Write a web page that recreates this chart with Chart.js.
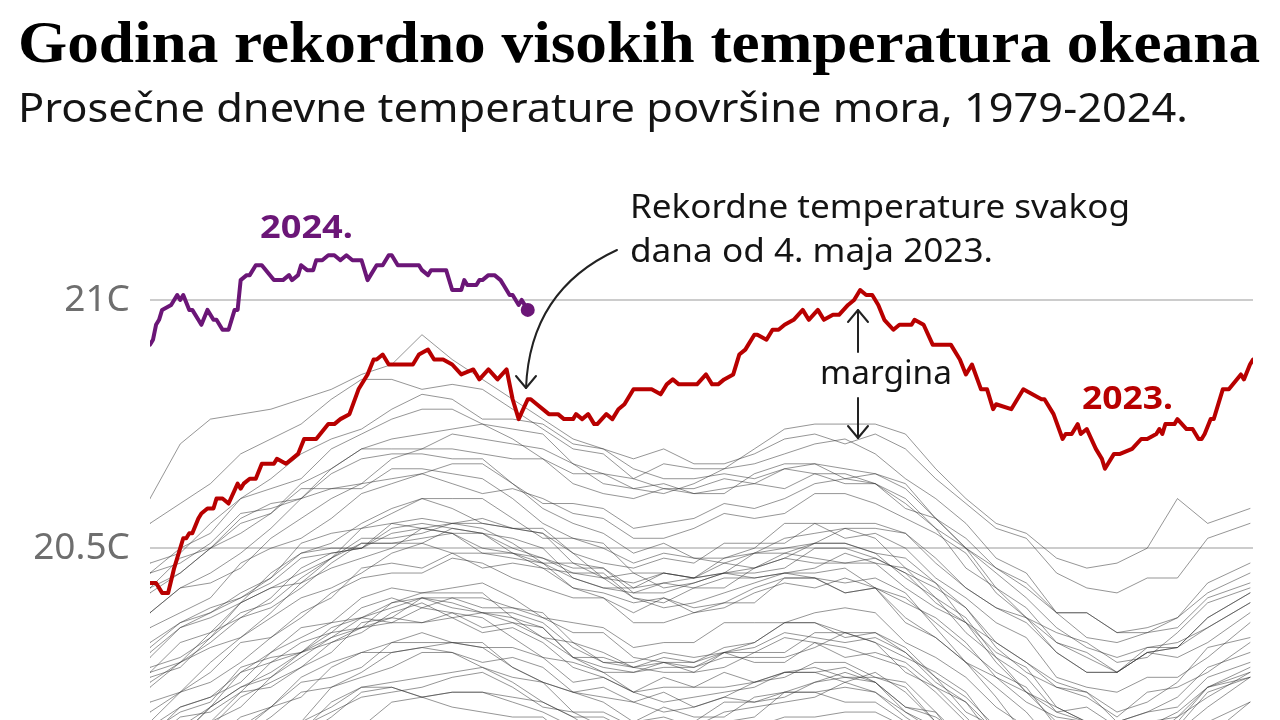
<!DOCTYPE html>
<html>
<head>
<meta charset="utf-8">
<script src="https://cdn.jsdelivr.net/npm/chart.js@4"></script>
<style>
  html, body { margin: 0; padding: 0; background: #fff; overflow: hidden; }
  #wrap { position: absolute; left: 0; top: 0; width: 1280px; height: 729px; }
</style>
</head>
<body>
<div id="wrap"><canvas id="sstChart" width="1280" height="729"></canvas></div>
<script>
// Day of year sampled for the older years (1979-2022)
const grayDays = [0, 10, 20, 30, 40, 50, 60, 70, 80, 90, 100, 110, 120, 130, 140, 150, 160, 170, 180,
    190, 200, 210, 220, 230, 240, 250, 260, 270, 280, 290, 300, 310, 320, 330, 340, 350, 364];
const grayYears = [1979, 1980, 1981, 1982, 1983, 1984, 1985, 1986, 1987, 1988, 1989, 1990, 1991, 1992, 1993,
    1994, 1995, 1996, 1997, 1998, 1999, 2000, 2001, 2002, 2003, 2004, 2005, 2006, 2007, 2008, 2009, 2010,
    2011, 2012, 2013, 2014, 2015, 2016, 2017, 2018, 2019, 2020, 2021, 2022];
const grayTemps = [
    [19.95,20.02,20.04,20.06,20.09,20.15,20.18,20.22,20.22,20.20,20.21,20.21,20.20,20.19,20.16,20.12,20.10,20.12,20.09,20.10,20.14,20.16,20.16,20.17,20.17,20.14,20.07,20.00,19.95,19.92,19.87,19.83,19.83,19.85,19.85,19.92,19.98],
    [19.99,20.03,20.08,20.14,20.18,20.23,20.24,20.26,20.31,20.31,20.31,20.30,20.26,20.23,20.21,20.22,20.19,20.17,20.18,20.20,20.19,20.21,20.23,20.25,20.23,20.17,20.13,20.08,20.01,19.95,19.93,19.91,19.87,19.89,19.90,19.97,19.99],
    [19.98,20.03,20.06,20.11,20.12,20.15,20.22,20.24,20.26,20.29,20.29,20.26,20.24,20.23,20.17,20.14,20.15,20.16,20.14,20.15,20.16,20.21,20.21,20.19,20.19,20.15,20.09,20.02,19.99,19.96,19.90,19.87,19.83,19.88,19.88,19.91,19.96],
    [19.95,20.00,20.01,20.04,20.11,20.14,20.17,20.20,20.21,20.22,20.24,20.25,20.22,20.18,20.17,20.17,20.14,20.15,20.15,20.19,20.19,20.20,20.23,20.24,20.23,20.18,20.16,20.12,20.06,20.02,19.97,19.97,19.93,19.95,19.98,20.05,20.09],
    [20.10,20.12,20.18,20.22,20.25,20.29,20.31,20.33,20.37,20.39,20.36,20.33,20.34,20.31,20.26,20.24,20.21,20.24,20.22,20.22,20.23,20.25,20.25,20.23,20.25,20.21,20.15,20.09,20.03,20.01,19.94,19.90,19.87,19.91,19.92,19.98,20.00],
    [19.97,20.00,20.03,20.08,20.10,20.12,20.16,20.21,20.22,20.20,20.21,20.21,20.19,20.17,20.14,20.14,20.09,20.08,20.08,20.12,20.13,20.12,20.15,20.15,20.13,20.09,20.04,20.01,19.94,19.89,19.85,19.83,19.78,19.83,19.83,19.87,19.92],
    [19.91,19.96,19.99,20.01,20.05,20.11,20.13,20.14,20.19,20.20,20.18,20.17,20.16,20.16,20.11,20.09,20.08,20.09,20.07,20.06,20.09,20.12,20.13,20.13,20.13,20.11,20.04,19.98,19.94,19.91,19.85,19.85,19.81,19.81,19.84,19.90,19.95],
    [19.95,19.98,20.03,20.09,20.10,20.13,20.19,20.22,20.23,20.24,20.25,20.26,20.23,20.19,20.16,20.16,20.13,20.12,20.14,20.17,20.18,20.19,20.20,20.23,20.21,20.16,20.12,20.09,20.03,20.01,19.94,19.89,19.88,19.91,19.94,20.01,20.05],
    [20.07,20.13,20.15,20.18,20.24,20.29,20.32,20.34,20.36,20.40,20.39,20.37,20.37,20.35,20.30,20.27,20.27,20.29,20.28,20.29,20.30,20.33,20.32,20.31,20.32,20.29,20.23,20.19,20.11,20.04,20.00,19.98,19.96,19.98,19.98,20.02,20.07],
    [20.10,20.12,20.18,20.22,20.24,20.28,20.32,20.36,20.35,20.35,20.37,20.36,20.32,20.28,20.27,20.25,20.21,20.22,20.22,20.25,20.23,20.24,20.27,20.27,20.24,20.23,20.17,20.09,20.04,19.99,19.93,19.92,19.89,19.89,19.91,19.99,20.02],
    [19.99,20.04,20.07,20.12,20.16,20.21,20.22,20.25,20.29,20.30,20.29,20.27,20.28,20.26,20.21,20.20,20.19,20.21,20.18,20.20,20.23,20.25,20.25,20.26,20.23,20.18,20.17,20.11,20.05,20.02,19.97,19.93,19.91,19.96,19.97,20.00,20.06],
    [20.10,20.14,20.18,20.25,20.27,20.29,20.33,20.38,20.40,20.38,20.40,20.40,20.38,20.36,20.33,20.33,20.28,20.27,20.27,20.30,20.31,20.35,20.35,20.32,20.33,20.29,20.24,20.20,20.14,20.07,20.02,20.02,19.98,19.99,20.03,20.08,20.11],
    [20.11,20.16,20.17,20.21,20.27,20.31,20.33,20.34,20.39,20.40,20.38,20.37,20.36,20.34,20.28,20.26,20.25,20.27,20.26,20.29,20.27,20.27,20.31,20.30,20.28,20.26,20.21,20.15,20.11,20.07,19.99,19.95,19.95,19.97,19.97,20.03,20.08],
    [20.05,20.07,20.11,20.16,20.18,20.20,20.26,20.29,20.29,20.30,20.31,20.31,20.26,20.23,20.21,20.19,20.15,20.18,20.16,20.16,20.20,20.21,20.21,20.22,20.21,20.17,20.14,20.10,20.01,19.95,19.92,19.91,19.88,19.90,19.91,19.99,20.03],
    [20.03,20.08,20.11,20.13,20.18,20.24,20.27,20.29,20.31,20.33,20.31,20.30,20.30,20.28,20.23,20.24,20.21,20.19,20.20,20.21,20.22,20.25,20.26,20.24,20.24,20.22,20.15,20.09,20.06,20.02,19.95,19.93,19.91,19.96,19.96,20.00,20.05],
    [20.06,20.08,20.14,20.20,20.23,20.26,20.29,20.35,20.36,20.35,20.36,20.37,20.35,20.34,20.28,20.25,20.25,20.26,20.26,20.28,20.28,20.28,20.30,20.33,20.31,20.25,20.22,20.19,20.13,20.08,20.02,20.03,19.99,20.00,20.02,20.09,20.13],
    [20.14,20.18,20.20,20.25,20.29,20.34,20.35,20.36,20.39,20.41,20.41,20.41,20.36,20.32,20.31,20.29,20.26,20.27,20.25,20.26,20.29,20.32,20.31,20.28,20.29,20.27,20.22,20.16,20.10,20.07,19.99,19.96,19.95,19.98,19.98,20.01,20.07],
    [20.07,20.11,20.15,20.21,20.22,20.26,20.31,20.34,20.35,20.38,20.37,20.34,20.35,20.32,20.28,20.28,20.26,20.25,20.25,20.29,20.29,20.29,20.33,20.33,20.31,20.28,20.25,20.21,20.13,20.08,20.05,20.03,19.99,20.00,20.05,20.11,20.14],
    [20.15,20.21,20.23,20.27,20.32,20.37,20.40,20.46,20.47,20.46,20.49,20.49,20.48,20.47,20.44,20.42,20.42,20.45,20.44,20.45,20.49,20.52,20.53,20.54,20.54,20.53,20.47,20.42,20.38,20.35,20.29,20.25,20.25,20.29,20.30,20.36,20.41],
    [20.41,20.45,20.50,20.55,20.57,20.62,20.62,20.62,20.66,20.66,20.65,20.64,20.60,20.55,20.52,20.51,20.45,20.42,20.43,20.45,20.44,20.45,20.45,20.46,20.42,20.36,20.32,20.27,20.20,20.12,20.08,20.06,20.02,20.04,20.05,20.12,20.14],
    [20.13,20.17,20.19,20.26,20.28,20.29,20.34,20.36,20.38,20.40,20.40,20.38,20.38,20.37,20.31,20.27,20.26,20.28,20.27,20.29,20.31,20.35,20.35,20.33,20.33,20.30,20.24,20.17,20.14,20.11,20.05,20.02,19.99,20.03,20.02,20.07,20.13],
    [20.12,20.18,20.20,20.23,20.29,20.32,20.35,20.40,20.42,20.41,20.42,20.43,20.40,20.36,20.35,20.34,20.30,20.31,20.31,20.35,20.35,20.35,20.37,20.38,20.37,20.31,20.28,20.24,20.18,20.14,20.09,20.08,20.03,20.05,20.08,20.15,20.19],
    [20.19,20.21,20.27,20.32,20.36,20.40,20.42,20.45,20.49,20.51,20.49,20.46,20.47,20.46,20.42,20.40,20.37,20.40,20.38,20.39,20.42,20.44,20.44,20.41,20.42,20.40,20.35,20.30,20.25,20.22,20.14,20.11,20.10,20.14,20.15,20.22,20.24],
    [20.23,20.27,20.31,20.36,20.38,20.42,20.47,20.51,20.51,20.51,20.54,20.53,20.50,20.48,20.46,20.46,20.41,20.41,20.43,20.45,20.45,20.46,20.50,20.50,20.48,20.45,20.42,20.38,20.30,20.25,20.22,20.20,20.16,20.21,20.22,20.25,20.31],
    [20.30,20.35,20.38,20.40,20.44,20.49,20.50,20.50,20.54,20.55,20.54,20.53,20.52,20.50,20.44,20.42,20.41,20.43,20.42,20.42,20.46,20.48,20.47,20.47,20.47,20.46,20.40,20.33,20.28,20.24,20.17,20.18,20.14,20.14,20.17,20.22,20.26],
    [20.26,20.28,20.32,20.39,20.42,20.43,20.48,20.51,20.51,20.52,20.53,20.53,20.49,20.46,20.45,20.44,20.40,20.39,20.42,20.44,20.44,20.45,20.46,20.49,20.47,20.42,20.38,20.35,20.29,20.26,20.18,20.15,20.15,20.17,20.18,20.24,20.27],
    [20.28,20.34,20.36,20.39,20.45,20.49,20.51,20.55,20.58,20.60,20.58,20.55,20.54,20.53,20.49,20.44,20.43,20.45,20.44,20.45,20.46,20.49,20.48,20.47,20.48,20.45,20.39,20.35,20.27,20.21,20.18,20.15,20.11,20.15,20.16,20.20,20.25],
    [20.24,20.26,20.32,20.37,20.39,20.44,20.48,20.52,20.52,20.53,20.55,20.54,20.51,20.47,20.47,20.46,20.42,20.43,20.44,20.47,20.46,20.48,20.51,20.51,20.49,20.48,20.43,20.35,20.31,20.27,20.23,20.21,20.17,20.19,20.23,20.30,20.32],
    [20.31,20.35,20.37,20.40,20.43,20.48,20.49,20.50,20.53,20.54,20.53,20.49,20.49,20.47,20.42,20.41,20.39,20.40,20.37,20.38,20.41,20.43,20.42,20.44,20.42,20.35,20.32,20.27,20.22,20.17,20.10,20.07,20.06,20.09,20.08,20.12,20.19],
    [20.17,20.21,20.25,20.31,20.32,20.36,20.41,20.44,20.45,20.45,20.48,20.47,20.44,20.42,20.40,20.40,20.35,20.35,20.37,20.39,20.39,20.44,20.44,20.41,20.42,20.39,20.36,20.31,20.24,20.19,20.16,20.15,20.10,20.11,20.16,20.22,20.25],
    [20.25,20.31,20.33,20.36,20.40,20.46,20.49,20.50,20.55,20.56,20.55,20.55,20.54,20.54,20.49,20.47,20.46,20.48,20.47,20.51,20.51,20.51,20.55,20.55,20.55,20.53,20.48,20.42,20.38,20.36,20.29,20.25,20.25,20.29,20.30,20.36,20.41],
    [20.42,20.45,20.50,20.56,20.59,20.60,20.65,20.68,20.69,20.69,20.68,20.68,20.63,20.58,20.55,20.53,20.49,20.51,20.48,20.47,20.49,20.50,20.51,20.51,20.49,20.44,20.40,20.36,20.28,20.21,20.17,20.15,20.11,20.13,20.14,20.21,20.24],
    [20.22,20.27,20.30,20.32,20.37,20.43,20.46,20.48,20.50,20.54,20.53,20.50,20.49,20.48,20.45,20.45,20.40,20.38,20.39,20.41,20.43,20.45,20.44,20.43,20.44,20.41,20.34,20.27,20.24,20.21,20.15,20.12,20.08,20.13,20.13,20.18,20.24],
    [20.25,20.27,20.33,20.39,20.42,20.45,20.48,20.54,20.55,20.54,20.55,20.56,20.54,20.53,20.47,20.44,20.45,20.45,20.44,20.48,20.49,20.49,20.51,20.54,20.52,20.46,20.43,20.38,20.31,20.27,20.22,20.21,20.15,20.17,20.20,20.26,20.29],
    [20.29,20.34,20.37,20.41,20.44,20.51,20.53,20.54,20.57,20.60,20.60,20.60,20.56,20.52,20.52,20.50,20.47,20.49,20.48,20.48,20.50,20.55,20.55,20.52,20.53,20.50,20.44,20.40,20.35,20.32,20.24,20.22,20.21,20.24,20.24,20.28,20.35],
    [20.34,20.37,20.40,20.47,20.50,20.52,20.56,20.61,20.63,20.65,20.63,20.61,20.62,20.60,20.57,20.56,20.52,20.52,20.54,20.57,20.56,20.57,20.61,20.61,20.59,20.56,20.53,20.49,20.41,20.36,20.33,20.31,20.27,20.28,20.33,20.39,20.42],
    [20.42,20.48,20.50,20.53,20.57,20.63,20.66,20.70,20.70,20.70,20.73,20.72,20.71,20.70,20.67,20.65,20.64,20.67,20.66,20.66,20.70,20.74,20.75,20.75,20.75,20.73,20.66,20.60,20.55,20.53,20.48,20.46,20.47,20.50,20.60,20.55,20.58],
    [20.60,20.71,20.76,20.77,20.78,20.80,20.82,20.85,20.87,20.93,20.88,20.84,20.80,20.76,20.72,20.70,20.66,20.64,20.64,20.65,20.64,20.66,20.67,20.64,20.65,20.62,20.56,20.50,20.45,20.40,20.34,20.30,20.28,20.30,20.31,20.34,20.39],
    [20.45,20.50,20.53,20.60,20.62,20.64,20.70,20.73,20.76,20.78,20.78,20.75,20.74,20.73,20.67,20.63,20.62,20.63,20.61,20.62,20.63,20.66,20.65,20.63,20.63,20.60,20.54,20.46,20.42,20.38,20.31,20.28,20.25,20.30,20.30,20.34,20.39],
    [20.37,20.42,20.43,20.46,20.52,20.56,20.60,20.63,20.64,20.65,20.67,20.67,20.63,20.59,20.59,20.58,20.54,20.55,20.56,20.59,20.58,20.60,20.63,20.64,20.63,20.58,20.56,20.52,20.46,20.42,20.37,20.37,20.33,20.34,20.36,20.43,20.47],
    [20.47,20.49,20.55,20.60,20.64,20.69,20.72,20.74,20.78,20.81,20.80,20.76,20.76,20.75,20.71,20.70,20.68,20.70,20.67,20.67,20.69,20.72,20.73,20.71,20.73,20.70,20.64,20.59,20.54,20.52,20.45,20.42,20.41,20.44,20.44,20.52,20.55],
    [20.55,20.59,20.63,20.69,20.72,20.75,20.80,20.84,20.84,20.82,20.83,20.82,20.78,20.74,20.70,20.69,20.64,20.62,20.62,20.64,20.63,20.62,20.65,20.65,20.63,20.59,20.54,20.50,20.42,20.36,20.31,20.29,20.25,20.29,20.28,20.31,20.37],
    [20.37,20.42,20.45,20.49,20.54,20.60,20.62,20.63,20.68,20.70,20.70,20.69,20.68,20.68,20.63,20.61,20.60,20.62,20.61,20.61,20.65,20.67,20.67,20.66,20.65,20.63,20.56,20.50,20.46,20.43,20.37,20.37,20.33,20.33,20.36,20.41,20.45],
    [20.45,20.47,20.51,20.57,20.58,20.60,20.66,20.70,20.72,20.73,20.74,20.75,20.72,20.68,20.65,20.65,20.62,20.61,20.63,20.66,20.67,20.69,20.71,20.72,20.69,20.64,20.60,20.55,20.48,20.45,20.37,20.32,20.31,20.33,20.34,20.40,20.43]
];

const days2023 = [
    0, 2, 4, 6, 8, 11, 12, 13, 14, 16,
    17, 19, 21, 22, 24, 26, 29, 30, 31, 33,
    35, 37, 41, 42, 45, 47, 49, 51, 54, 55,
    59, 61, 63, 66, 69, 72, 74, 75, 77, 79,
    87, 89, 92, 94, 97, 100, 103, 107, 109, 112,
    115, 118, 120, 122, 125, 126, 128, 132, 135, 137,
    140, 141, 143, 145, 147, 148, 151, 153, 155, 157,
    158, 160, 162, 165, 166, 169, 171, 173, 175, 181,
    184, 186, 188, 190, 193, 195, 197, 198, 200, 201,
    204, 206, 208, 210, 213, 216, 218, 221, 223, 226,
    228, 231, 233, 235, 237, 239, 241, 243, 246, 248,
    252, 253, 256, 259, 265, 268, 270, 272, 275, 277,
    279, 280, 285, 289, 292, 295, 296, 299, 302, 303,
    305, 307, 308, 310, 313, 315, 316, 319, 321, 325,
    328, 330, 333, 334, 335, 336, 339, 340, 343, 345,
    347, 348, 349, 351, 352, 355, 357, 361, 362, 364,
    365
];
const temps2023 = [
    20.43, 20.43, 20.41, 20.41, 20.46, 20.52, 20.52, 20.53, 20.53, 20.56,
    20.57, 20.58, 20.58, 20.60, 20.60, 20.59, 20.63, 20.62, 20.63, 20.64,
    20.64, 20.67, 20.67, 20.68, 20.67, 20.68, 20.69, 20.72, 20.72, 20.72,
    20.75, 20.75, 20.76, 20.77, 20.82, 20.85, 20.88, 20.88, 20.89, 20.87,
    20.87, 20.89, 20.90, 20.88, 20.88, 20.87, 20.85, 20.86, 20.84, 20.86,
    20.84, 20.86, 20.80, 20.76, 20.80, 20.80, 20.79, 20.77, 20.77, 20.76,
    20.76, 20.77, 20.76, 20.77, 20.75, 20.75, 20.77, 20.76, 20.78, 20.79,
    20.80, 20.82, 20.82, 20.82, 20.82, 20.81, 20.83, 20.84, 20.83, 20.83,
    20.85, 20.83, 20.83, 20.84, 20.85, 20.89, 20.90, 20.91, 20.93, 20.93,
    20.92, 20.94, 20.94, 20.95, 20.96, 20.98, 20.96, 20.98, 20.96, 20.97,
    20.97, 20.99, 21.00, 21.02, 21.01, 21.01, 20.99, 20.96, 20.94, 20.95,
    20.95, 20.96, 20.95, 20.91, 20.91, 20.88, 20.85, 20.87, 20.82, 20.82,
    20.78, 20.79, 20.78, 20.82, 20.81, 20.80, 20.80, 20.77, 20.72, 20.73,
    20.73, 20.75, 20.73, 20.74, 20.70, 20.68, 20.66, 20.69, 20.69, 20.70,
    20.72, 20.72, 20.73, 20.74, 20.73, 20.75, 20.75, 20.76, 20.74, 20.74,
    20.72, 20.72, 20.73, 20.76, 20.76, 20.82, 20.82, 20.85, 20.84, 20.87,
    20.88
];

const days2024 = [
    0, 1, 2, 3, 4, 7, 9, 10, 11, 13,
    14, 16, 17, 19, 21, 22, 24, 26, 28, 29,
    30, 32, 33, 35, 37, 41, 44, 46, 47, 49,
    50, 52, 54, 55, 57, 59, 61, 63, 65, 67,
    70, 72, 75, 77, 79, 80, 82, 84, 85, 89,
    90, 92, 93, 98, 100, 103, 104, 105, 108, 109,
    110, 112, 114, 116, 117, 119, 120, 122, 123, 125
];
const temps2024 = [
    20.91, 20.92, 20.95, 20.96, 20.98, 20.99, 21.01, 21.00, 21.01, 20.98,
    20.98, 20.96, 20.95, 20.98, 20.96, 20.96, 20.94, 20.94, 20.98, 20.98,
    21.04, 21.05, 21.05, 21.07, 21.07, 21.04, 21.04, 21.05, 21.04, 21.05,
    21.07, 21.06, 21.06, 21.08, 21.08, 21.09, 21.09, 21.08, 21.09, 21.08,
    21.08, 21.04, 21.07, 21.07, 21.09, 21.09, 21.07, 21.07, 21.07, 21.07,
    21.06, 21.05, 21.06, 21.06, 21.02, 21.02, 21.04, 21.03, 21.03, 21.04,
    21.04, 21.05, 21.05, 21.04, 21.03, 21.01, 21.01, 20.99, 21.00, 20.98
];

const yTicks = [20.5, 21];
const yTickLabels = ['20.5C', '21C'];

const RED = '#b80000';
const PURPLE = '#6b1677';
const SANS = '"Noto Sans", "Open Sans", sans-serif';

function toPoints(days, temps) {
    return days.map((d, i) => ({ x: d, y: temps[i] }));
}

const datasets = [
    {
        label: '2024',
        data: toPoints(days2024, temps2024),
        borderColor: PURPLE,
        backgroundColor: PURPLE,
        borderWidth: 4,
        pointRadius: ctx => ctx.dataIndex === days2024.length - 1 ? 7 : 0,
        pointBorderWidth: 0,
        order: 0
    },
    {
        label: '2023',
        data: toPoints(days2023, temps2023),
        borderColor: RED,
        borderWidth: 4,
        pointRadius: 0,
        order: 1
    }
];
grayYears.forEach((year, i) => {
    datasets.push({
        label: String(year),
        data: toPoints(grayDays, grayTemps[i]),
        borderColor: 'rgba(45, 45, 45, 0.5)',
        borderWidth: 1,
        pointRadius: 0,
        order: 2
    });
});

// squeeze or stretch a line of text to a given width
function fitText(ctx, text, x, y, width) {
    const w = ctx.measureText(text).width;
    ctx.save();
    ctx.translate(x, y);
    ctx.scale(width / w, 1);
    ctx.fillText(text, 0, 0);
    ctx.restore();
}

function arrowHead(ctx, x, y, dir) {
    ctx.beginPath();
    ctx.moveTo(x - 10, y - 12 * dir);
    ctx.lineTo(x, y);
    ctx.lineTo(x + 10, y - 12 * dir);
    ctx.stroke();
}

const annotations = {
    id: 'annotations',
    afterDraw(chart) {
        const ctx = chart.ctx;
        ctx.save();
        ctx.textBaseline = 'alphabetic';
        ctx.textAlign = 'left';

        ctx.fillStyle = '#000';
        ctx.font = 'bold 60px "Liberation Serif", serif';
        fitText(ctx, 'Godina rekordno visokih temperatura okeana', 18, 62, 1242);
        ctx.fillStyle = '#141414';
        ctx.font = '40px ' + SANS;
        fitText(ctx, 'Prosečne dnevne temperature površine mora, 1979-2024.', 18, 122, 1170);

        ctx.fillStyle = PURPLE;
        ctx.font = 'bold 32px ' + SANS;
        fitText(ctx, '2024.', 260, 238, 93);
        ctx.fillStyle = RED;
        fitText(ctx, '2023.', 1082, 409, 91);

        ctx.fillStyle = '#141414';
        ctx.font = '32px ' + SANS;
        fitText(ctx, 'Rekordne temperature svakog', 630, 218, 500);
        fitText(ctx, 'dana od 4. maja 2023.', 630, 262, 363);
        fitText(ctx, 'margina', 820, 384, 132);

        ctx.strokeStyle = '#222';
        ctx.lineWidth = 2;
        ctx.lineCap = 'round';
        ctx.lineJoin = 'round';
        // curved arrow to the start of the record run
        ctx.beginPath();
        ctx.moveTo(617, 250);
        ctx.quadraticCurveTo(530, 290, 526, 388);
        ctx.stroke();
        arrowHead(ctx, 526, 388, 1);

        // margin arrows
        ctx.beginPath();
        ctx.moveTo(858, 352);
        ctx.lineTo(858, 310);
        ctx.stroke();
        arrowHead(ctx, 858, 310, -1);
        ctx.beginPath();
        ctx.moveTo(858, 398);
        ctx.lineTo(858, 438);
        ctx.stroke();
        arrowHead(ctx, 858, 438, 1);
        ctx.restore();
    }
};

new Chart(document.getElementById('sstChart'), {
    type: 'line',
    data: { datasets: datasets },
    options: {
        responsive: false,
        animation: false,
        events: [],
        layout: { padding: { top: 151, right: 27, bottom: 0, left: 0 } },
        elements: { line: { tension: 0, borderJoinStyle: 'round', borderCapStyle: 'round' } },
        plugins: {
            legend: { display: false },
            tooltip: { enabled: false }
        },
        scales: {
            x: {
                type: 'linear',
                min: 0,
                max: 365,
                display: false
            },
            y: {
                type: 'linear',
                min: 20.15,
                max: 21.3,
                border: { display: false },
                grid: { color: '#cccccc', lineWidth: 2, drawTicks: false },
                afterBuildTicks: scale => {
                    scale.ticks = yTicks.map(v => ({ value: v }));
                },
                afterFit: scale => {
                    scale.width = 150;
                    scale.paddingTop = 0;
                    scale.paddingBottom = 0;
                },
                ticks: {
                    padding: 20,
                    color: '#6e6e6e',
                    font: { family: SANS, size: 37 },
                    callback: value => yTickLabels[yTicks.indexOf(value)]
                }
            }
        }
    },
    plugins: [annotations]
});
</script>
</body>
</html>
